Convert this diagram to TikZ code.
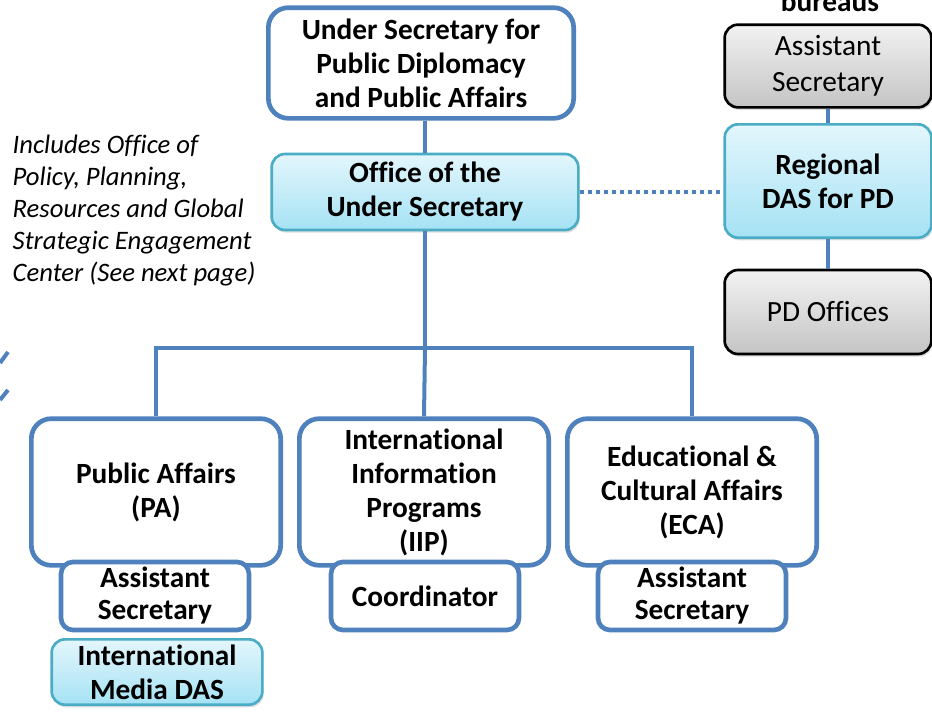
\documentclass[tikz,border=0pt]{standalone}
\usepackage{fontspec}
\setmainfont[Ligatures=NoCommon]{Carlito}
\usetikzlibrary{positioning, shadows}
\definecolor{pdblue}{HTML}{4F81BD}
\definecolor{pdteal}{HTML}{4BACC6}
\definecolor{cyantop}{HTML}{E3F6FC}
\definecolor{cyanbot}{HTML}{A5E2F4}
\definecolor{greytop}{HTML}{F2F2F2}
\definecolor{greybot}{HTML}{C4C4C4}

\begin{document}
\begin{tikzpicture}[x=0.75pt, y=-0.75pt, font=\bfseries\fontsize{22}{25.5}\selectfont]
    \tikzset{
        unit/.style={draw=pdblue, line width=3.5pt, fill=white, rounded corners=15pt, align=center, inner sep=2pt},
        subunit/.style={unit, rounded corners=9pt, minimum width=141pt, minimum height=51pt, font=\bfseries\fontsize{22}{24}\selectfont},
        office/.style={draw=pdteal, line width=2pt, top color=cyantop, bottom color=cyanbot, rounded corners=10pt, align=center,
            drop shadow={opacity=0.25, shadow xshift=1pt, shadow yshift=-2pt}},
        bureau/.style={draw=black, line width=2pt, top color=greytop, bottom color=greybot, rounded corners=10pt, align=center,
            font=\mdseries\fontsize{22}{27}\selectfont, drop shadow={opacity=0.25, shadow xshift=1pt, shadow yshift=-2pt}},
        link/.style={draw=pdblue, line width=3pt}
    }
    \useasboundingbox (0,0) rectangle (932,714);

    \node[unit, minimum width=229pt, minimum height=83pt] (under) at (421,63) {Under Secretary for\\Public Diplomacy\\and Public Affairs};
    \node[office, minimum width=230pt, minimum height=57pt] (ous) at (425,192) {Office of the\\Under Secretary};

    \node[anchor=base] (bureaus) at (830,11) {bureaus};
    \node[bureau, minimum width=155pt, minimum height=62pt] (asec) at (828,66) {Assistant\\Secretary};
    \node[office, minimum width=155pt, minimum height=85pt] (rdas) at (828,181) {Regional\\DAS for PD};
    \node[bureau, minimum width=155pt, minimum height=63pt] (pdo) at (828,312) {PD Offices};

    \node[anchor=north west, align=left, font=\itshape\fontsize{20}{24}\selectfont] (note) at (8,130)
        {Includes Office of\\Policy, Planning,\\Resources and Global\\Strategic Engagement\\Center (See next page)};

    \node[unit, minimum width=187pt, minimum height=110pt] (pa) at (156,492) {Public Affairs\\(PA)};
    \node[unit, minimum width=187pt, minimum height=110pt] (iip) at (424,492) {International\\Information\\Programs\\(IIP)};
    \node[unit, minimum width=187pt, minimum height=110pt] (eca) at (692,492) {Educational \&\\Cultural Affairs\\(ECA)};

    \node[subunit] (paas) at (155,596) {Assistant\\Secretary};
    \node[subunit] (coord) at (425,596) {Coordinator};
    \node[subunit] (ecaas) at (692,596) {Assistant\\Secretary};
    \node[office, minimum width=158pt, minimum height=49pt] (imdas) at (157,672) {International\\Media DAS};

    \coordinate (split) at (425,348);
    \path[link] (asec) edge (rdas)
        (rdas) edge (pdo);
    \draw[link] (ous.north) -- (ous.north |- under.south);
    \draw[link] (ous) -- (split);
    \draw[link] (pa.north) |- (split) -| (eca.north);
    \draw[link] (split) -- (iip.north);
    \draw[pdblue, line width=2.5pt, dash pattern=on 3pt off 3pt] (ous.east) -- (ous.east -| rdas.west);

    \draw[pdblue, line width=3pt] (0,363) -- (8,352) (0,400) -- (8,390);
\end{tikzpicture}
\end{document}
